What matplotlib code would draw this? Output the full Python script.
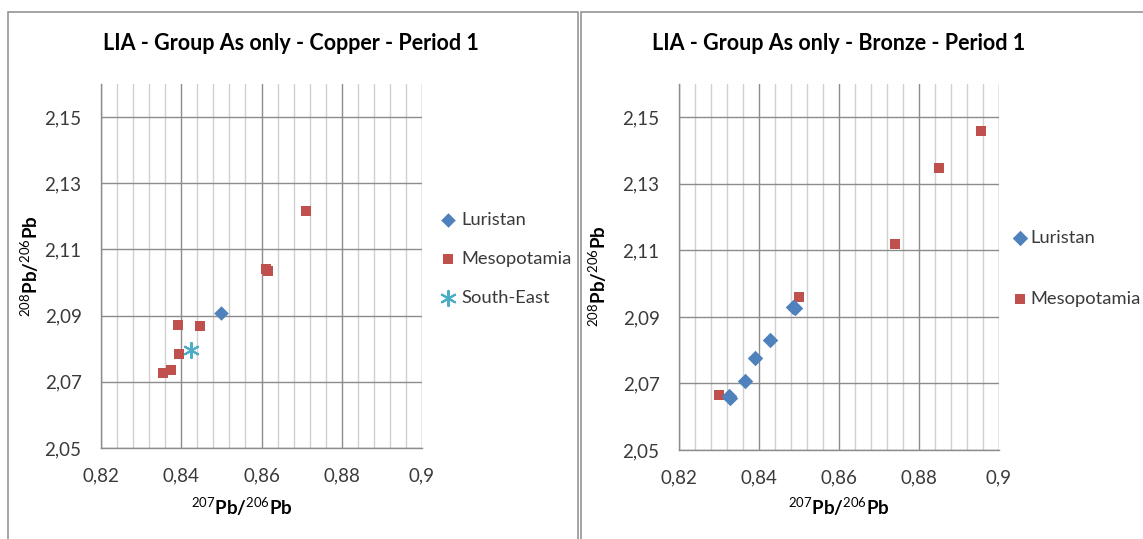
import matplotlib
matplotlib.use('Agg')
import matplotlib.pyplot as plt
from matplotlib.patches import Rectangle
from matplotlib.ticker import MultipleLocator, FuncFormatter

plt.rcParams['font.family'] = ['Lato', 'DejaVu Sans']
plt.rcParams['mathtext.fontset'] = 'custom'
plt.rcParams['mathtext.rm'] = 'Lato'
plt.rcParams['mathtext.bf'] = 'Lato:bold'

# ── Data ─────────────────────────────────────────────────────────────────────
# Copper, period 1
cu_luristan_x = [0.8499]
cu_luristan_y = [2.0909]
cu_meso_x = [0.8710, 0.8610, 0.8615, 0.8391, 0.8446, 0.8394, 0.8374, 0.8355]
cu_meso_y = [2.1217, 2.1040, 2.1035, 2.0871, 2.0868, 2.0783, 2.0735, 2.0727]
cu_se_x = [0.8425]
cu_se_y = [2.0796]

# Bronze, period 1
br_luristan_x = [0.8486, 0.8490, 0.8428, 0.8391, 0.8364, 0.8324, 0.8328]
br_luristan_y = [2.0930, 2.0928, 2.0831, 2.0777, 2.0708, 2.0662, 2.0656]
br_meso_x = [0.8954, 0.8849, 0.8741, 0.8499, 0.8299]
br_meso_y = [2.1459, 2.1349, 2.1120, 2.0961, 2.0664]

TITLES = ['LIA - Group As only - Copper - Period 1',
          'LIA - Group As only - Bronze - Period 1']

C_LUR = '#4f81bd'
C_MES = '#c0504d'
C_SE = '#4bacc6'
GRID_MAJOR = '#8c8c8c'
GRID_MINOR = '#d0d0d0'
W, H = 1143, 539


def fmt(v, pos):
    return f'{v:.2f}'.rstrip('0').replace('.', ',')


def style_axes(ax):
    ax.set_xlim(0.82, 0.90)
    ax.set_ylim(2.05, 2.16)
    ax.xaxis.set_major_locator(MultipleLocator(0.02))
    ax.xaxis.set_minor_locator(MultipleLocator(0.004))
    ax.yaxis.set_major_formatter(FuncFormatter(fmt))
    ax.xaxis.set_major_formatter(FuncFormatter(fmt))
    ax.set_yticks([2.05, 2.07, 2.09, 2.11, 2.13, 2.15])
    ax.grid(which='major', color=GRID_MAJOR, linewidth=1.0)
    ax.grid(which='minor', axis='x', color=GRID_MINOR, linewidth=1.0)
    ax.set_axisbelow(True)
    for s in ['top', 'right']:
        ax.spines[s].set_visible(False)
    for s in ['left', 'bottom']:
        ax.spines[s].set_color(GRID_MAJOR)
        ax.spines[s].set_linewidth(1.0)
    ax.tick_params(which='both', length=0, labelsize=13.5, colors='#3a3a3a', pad=14)
    ax.set_xlabel(r'$^{\mathrm{207}}\mathbf{Pb/}^{\mathrm{206}}\mathbf{Pb}$', fontsize=13.5)
    ax.set_ylabel(r'$^{\mathrm{208}}\mathbf{Pb/}^{\mathrm{206}}\mathbf{Pb}$', fontsize=13.5)
    ax.xaxis.label.set_va('center')
    ax.yaxis.label.set_va('center')


fig = plt.figure(figsize=(W / 100, H / 100), dpi=100)

# panel frames
fig.add_artist(Rectangle((7.5 / W, -0.1), 570 / W, (H - 12.5) / H + 0.1,
                         transform=fig.transFigure, fill=False,
                         edgecolor=GRID_MAJOR, linewidth=1.1))
fig.add_artist(Rectangle((580.5 / W, -0.1), 600 / W, (H - 12.5) / H + 0.1,
                         transform=fig.transFigure, fill=False,
                         edgecolor=GRID_MAJOR, linewidth=1.1))

# ── Left: copper ─────────────────────────────────────────────────────────────
ax1 = fig.add_axes([101 / W, (H - 448) / H, 321 / W, 364 / H])
style_axes(ax1)
ax1.scatter(cu_luristan_x, cu_luristan_y, marker='D', s=55, color=C_LUR,
            label='Luristan', zorder=3, linewidths=0)
ax1.scatter(cu_meso_x, cu_meso_y, marker='s', s=52, color=C_MES,
            label='Mesopotamia', zorder=3, linewidths=0)
ax1.scatter(cu_se_x, cu_se_y, marker=(6, 2, 0), s=120, color=C_SE,
            label='South-East', zorder=4, linewidths=1.5)
ax1.xaxis.set_label_coords(0.44, -59 / 364)
ax1.yaxis.set_label_coords(-71 / 321, 0.5)
fig.text(291 / W, 1 - 43 / H, TITLES[0], ha='center', va='center',
         fontsize=15.5, fontweight='bold')
ax1.legend(loc='center left', bbox_to_anchor=(441 / W, 1 - 259 / H),
           bbox_transform=fig.transFigure, frameon=False, fontsize=13.2,
           borderpad=0, borderaxespad=0, handlelength=0.8,
           handletextpad=0.3, labelspacing=1.25, labelcolor='#3a3a3a')

# ── Right: bronze ────────────────────────────────────────────────────────────
ax2 = fig.add_axes([679 / W, (H - 450) / H, 320 / W, 366 / H])
style_axes(ax2)
ax2.scatter(br_luristan_x, br_luristan_y, marker='D', s=62, color=C_LUR,
            label='Luristan', zorder=4, linewidths=0)
ax2.scatter(br_meso_x, br_meso_y, marker='s', s=57, color=C_MES,
            label='Mesopotamia', zorder=3, linewidths=0)
ax2.xaxis.set_label_coords(0.5, -57 / 366)
ax2.yaxis.set_label_coords(-81 / 320, 0.475)
fig.text(839 / W, 1 - 43 / H, TITLES[1], ha='center', va='center',
         fontsize=15.5, fontweight='bold')
ax2.legend(loc='center left', bbox_to_anchor=(1013 / W, 1 - 268.5 / H),
           bbox_transform=fig.transFigure, frameon=False, fontsize=13.2,
           borderpad=0, borderaxespad=0, handlelength=0.8,
           handletextpad=0.15, labelspacing=2.45, labelcolor='#3a3a3a')

fig.savefig('out.png', dpi=100)
